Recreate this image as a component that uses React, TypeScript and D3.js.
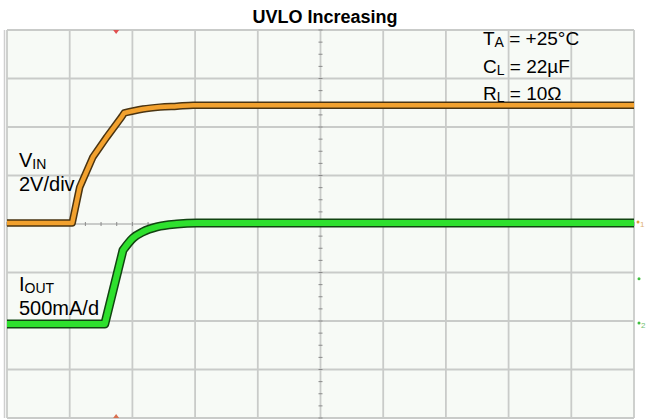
import * as d3 from "d3";
import { useEffect, useRef } from "react";

// scope screen: 10 horizontal divisions x 8 vertical divisions
const xDivisions = [0, 1, 2, 3, 4, 5, 6, 7, 8, 9, 10];
const yDivisions = [0, 1, 2, 3, 4, 5, 6, 7, 8];

// VIN trace (time div, level div), read from the capture
const vinTime = [0, 1.04, 1.16, 1.37, 1.59, 1.83, 1.87, 2.01, 2.17, 2.44, 2.71, 2.97, 10];
const vinLevel = [4.02, 4.02, 4.76, 5.38, 5.79, 6.21, 6.29, 6.33, 6.37, 6.41, 6.43, 6.45, 6.45];
const vinKink = 6; // index where the fast edge ends and the settling starts

// IOUT trace
const ioutTime = [0, 1.56, 1.85, 2.01, 2.17, 2.39, 2.71, 3.03, 10];
const ioutLevel = [1.94, 1.94, 3.46, 3.71, 3.84, 3.94, 4.0, 4.02, 4.02];
const ioutKink = 2;

const title = "UVLO Increasing";
const conditions = [
  { main: "T", sub: "A", rest: " = +25°C" },
  { main: "C", sub: "L", rest: " = 22µF" },
  { main: "R", sub: "L", rest: " = 10Ω" },
];

const W = 650;
const H = 420;

const App = () => {
  const svgRef = useRef<SVGSVGElement>(null);

  useEffect(() => {
    const svg = d3.select(svgRef.current);
    svg.selectAll("*").remove();

    const left = 7, right = 634, top = 30, bottom = 418;
    const x = d3.scaleLinear().domain([0, 10]).range([left, right]);
    const y = d3.scaleLinear().domain([0, 8]).range([bottom, top]);
    const font = "Liberation Sans, Arial, sans-serif";

    // title
    svg.append("text")
      .attr("x", 325)
      .attr("y", 23)
      .attr("text-anchor", "middle")
      .attr("font-family", font)
      .attr("font-weight", "bold")
      .attr("font-size", 18)
      .text(title);

    // screen background
    svg.append("rect")
      .attr("x", left)
      .attr("y", top)
      .attr("width", right - left)
      .attr("height", bottom - top)
      .attr("fill", "#f7faf6");
    svg.append("line")
      .attr("x1", 4.5).attr("x2", 4.5)
      .attr("y1", top).attr("y2", bottom)
      .attr("stroke", "#cfcfcf")
      .attr("stroke-width", 1.5);

    // grid
    const grid = svg.append("g")
      .attr("stroke", "#c9cbc9")
      .attr("stroke-width", 1.8);
    grid.selectAll(".vx")
      .data(xDivisions)
      .join("line")
      .attr("x1", d => x(d)).attr("x2", d => x(d))
      .attr("y1", top).attr("y2", bottom);
    grid.selectAll(".hy")
      .data(yDivisions)
      .join("line")
      .attr("x1", left).attr("x2", right)
      .attr("y1", d => y(d)).attr("y2", d => y(d));

    // minor ticks on the centre axes
    const minor = svg.append("g").attr("stroke", "#8a8a8a").attr("stroke-width", 1);
    minor.selectAll(".mx")
      .data(d3.range(0, 10.01, 0.25))
      .join("line")
      .attr("x1", d => x(d)).attr("x2", d => x(d))
      .attr("y1", y(4) - 2).attr("y2", y(4) + 2);
    minor.selectAll(".my")
      .data(d3.range(0, 8.01, 0.25))
      .join("line")
      .attr("x1", x(5) - 2).attr("x2", x(5) + 2)
      .attr("y1", d => y(d)).attr("y2", d => y(d));

    // trigger markers
    const tx = x(1.74);
    svg.append("path")
      .attr("d", `M${tx - 3},${top} L${tx + 3},${top} L${tx},${top + 4} Z`)
      .attr("fill", "#e05050");
    svg.append("path")
      .attr("d", `M${tx - 3},${bottom} L${tx + 3},${bottom} L${tx},${bottom - 4} Z`)
      .attr("fill", "#d87050");

    // straight edge up to the kink, smooth settling after it
    const straight = d3.line<[number, number]>().x(d => x(d[0])).y(d => y(d[1]));
    const smooth = d3.line<[number, number]>().x(d => x(d[0])).y(d => y(d[1])).curve(d3.curveMonotoneX);
    const tracePath = (pts: [number, number][], k: number) =>
      straight(pts.slice(0, k + 1)) + (smooth(pts.slice(k)) || "").replace(/^M/, "L");

    const vin: [number, number][] = vinTime.map((t, i) => [t, vinLevel[i]]);
    const iout: [number, number][] = ioutTime.map((t, i) => [t, ioutLevel[i]]);

    const drawTrace = (d: string, edge: string, core: string, wEdge: number, wCore: number) => {
      svg.append("path")
        .attr("d", d)
        .attr("fill", "none")
        .attr("stroke", edge)
        .attr("stroke-width", wEdge)
        .attr("stroke-linejoin", "round");
      svg.append("path")
        .attr("d", d)
        .attr("fill", "none")
        .attr("stroke", core)
        .attr("stroke-width", wCore)
        .attr("stroke-linejoin", "round");
    };
    drawTrace(tracePath(vin, vinKink), "#4a3412", "#f2a12e", 7.5, 4.5);
    drawTrace(tracePath(iout, ioutKink), "#124412", "#2ee02e", 9, 6);

    // channel ground markers on the right edge
    const marks = svg.append("g").attr("font-family", font).attr("font-size", 8);
    marks.append("circle").attr("cx", 638).attr("cy", y(4.02) - 1).attr("r", 1.5).attr("fill", "#e0a040");
    marks.append("text").attr("x", 640).attr("y", y(4.02) + 4).attr("fill", "#e0b070").text("1");
    marks.append("circle").attr("cx", 639).attr("cy", y(2.87)).attr("r", 1.5).attr("fill", "#40c040");
    marks.append("circle").attr("cx", 639).attr("cy", y(1.94) - 1).attr("r", 1.5).attr("fill", "#40c040");
    marks.append("text").attr("x", 641).attr("y", y(1.94) + 4).attr("fill", "#70c070").text("2");

    // test conditions
    conditions.forEach((c, i) => {
      const t = svg.append("text")
        .attr("x", 483)
        .attr("y", 45 + i * 27.5)
        .attr("font-family", font)
        .attr("font-size", 19);
      t.append("tspan").text(c.main);
      t.append("tspan").attr("font-size", 14).attr("dy", 2).text(c.sub);
      t.append("tspan").attr("dy", -2).text(c.rest);
    });

    // channel labels
    const addLabel = (main: string, sub: string, scale: string, yy: number) => {
      const t = svg.append("text")
        .attr("x", 19)
        .attr("y", yy)
        .attr("font-family", font)
        .attr("font-size", 20);
      t.append("tspan").text(main);
      t.append("tspan").attr("font-size", 14).attr("dy", 2).text(sub);
      svg.append("text")
        .attr("x", 19)
        .attr("y", yy + 24)
        .attr("font-family", font)
        .attr("font-size", 20)
        .text(scale);
    };
    addLabel("V", "IN", "2V/div", 167);
    addLabel("I", "OUT", "500mA/d", 291);
  }, []);

  return (
    <svg
      ref={svgRef}
      width={W}
      height={H}
      style={{ position: "absolute", left: 0, top: 0, background: "#ffffff" }}
    />
  );
};

export default App;
